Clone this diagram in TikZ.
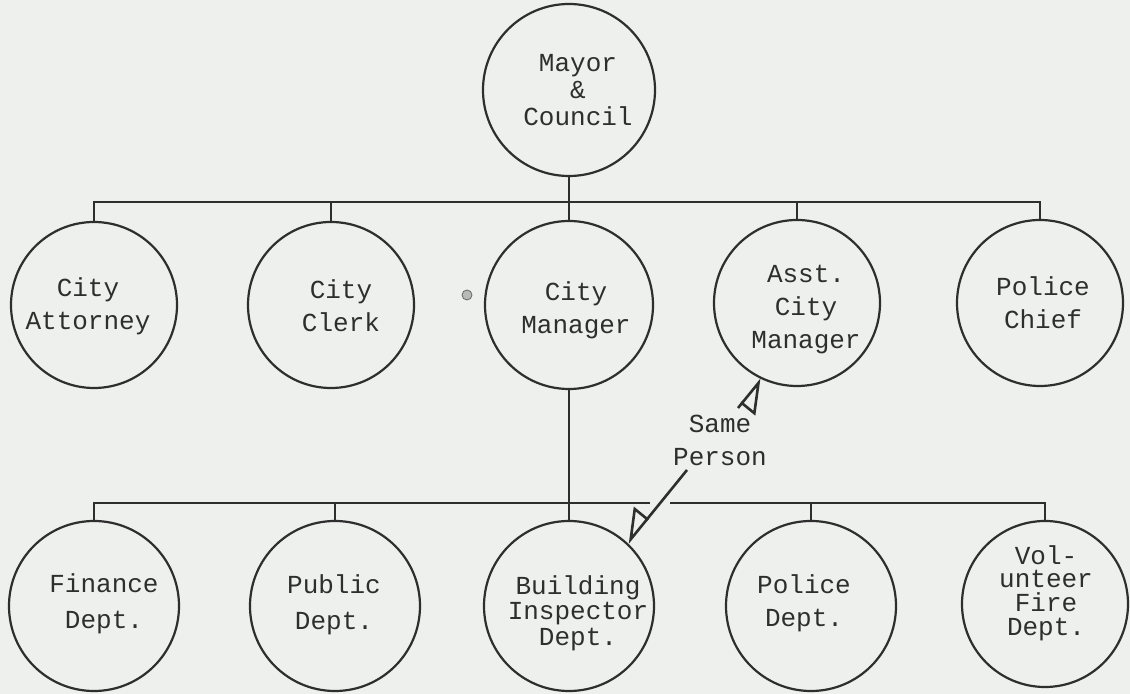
\documentclass[tikz,border=0pt]{standalone}
\usepackage{fontspec}
\newfontfamily\typed{Liberation Mono}
\usetikzlibrary{arrows.meta}
\definecolor{paper}{HTML}{EEF0EE}
\definecolor{ink}{HTML}{2E2E2E}
\tikzset{
  office/.style={circle, draw=ink, line width=1.1pt, inner sep=0pt, minimum size=83pt},
  lower/.style={office, minimum size=85pt},
  lbl/.style={text=ink, align=center, inner sep=0pt,
    font=\typed\fontsize{13}{16.5}\selectfont},
  wire/.style={draw=ink, line width=1.4pt},
  same/.style={draw=ink, line width=1.3pt,
    -{Triangle[open, right, length=15pt, width=18pt]}},
}
\begin{document}
\begin{tikzpicture}[x=0.5pt, y=-0.5pt]
\fill[paper] (0,0) rectangle (1130,694);
\useasboundingbox (0,0) rectangle (1130,694);

% top
\node[office, minimum size=86pt] (mayor) at (569,90) {};
\node[lbl, font=\typed\fontsize{13}{13.5}\selectfont] (mayor-t) at (578,90) {Mayor\\\&\\Council};

% second tier
\node[office] (att)   at (94,305)   {};
\node[office] (clerk) at (331,305)  {};
\node[office, minimum size=84pt] (mgr) at (569,305) {};
\node[office] (asst)  at (797,303)  {};
\node[office] (chief) at (1040,303) {};
\node[lbl] (att-t)   at (88,306)   {City\\Attorney};
\node[lbl] (clerk-t) at (341,306)  {City\\Clerk};
\node[lbl] (mgr-t)   at (576,310)  {City\\Manager};
\node[lbl] (asst-t)  at (806,310)  {Asst.\\City\\Manager};
\node[lbl] (chief-t) at (1043,303) {Police\\Chief};

% departments
\node[lower] (fin) at (94,606)   {};
\node[lower] (pub) at (335,606)  {};
\node[lower] (bld) at (569,606)  {};
\node[lower] (pol) at (811,606)  {};
\node[lower, minimum size=83pt] (vol) at (1045,604) {};
\node[lbl, font=\typed\fontsize{13}{18}\selectfont] (fin-t) at (104,604) {Finance\\Dept.};
\node[lbl, font=\typed\fontsize{13}{18}\selectfont] (pub-t) at (334,605) {Public\\Dept.};
\node[lbl, font=\typed\fontsize{13}{12.75}\selectfont] (bld-t) at (578,613) {Building\\Inspector\\Dept.};
\node[lbl] (pol-t) at (804,603) {Police\\Dept.};
\node[lbl, font=\typed\fontsize{13}{11.9}\selectfont] (vol-t) at (1046,593) {Vol-\\unteer\\Fire\\Dept.};

% small mark left of the manager
\node[circle, fill=gray!55, draw=gray!80!black, line width=0.4pt,
      minimum size=5pt, inner sep=0pt] (speck) at (467,295) {};

% bus levels
\coordinate (bus-top) at (569,202);
\coordinate (bus-low) at (569,503);
\coordinate (gap-l) at (650,503);
\coordinate (gap-r) at (670,503);

% upper bus and stems
\draw[wire] (att.north) -- (att.north |- bus-top) -- (chief.north |- bus-top) -- (chief.north);
\draw[wire] (clerk.north) -- (clerk.north |- bus-top);
\draw[wire] (asst.north) -- (asst.north |- bus-top);
\draw[wire] (mayor.south) -- (mgr.north);

% lower bus and stems
\draw[wire] (mgr.south) -- (bld.north);
\draw[wire] (fin.north) -- (fin.north |- bus-low) -- (gap-l);
\draw[wire] (gap-r) -- (vol.north |- bus-low) -- (vol.north);
\draw[wire] (pub.north) -- (pub.north |- bus-low);
\draw[wire] (pol.north) -- (pol.north |- bus-low);

% same person note
\node[lbl] (same) at (720,440) {Same\\Person};
\coordinate (same-up) at (738,408);
\coordinate (same-down) at (687,470);
\draw[same] (same-up) -- (asst.245);
\draw[same] (same-down) -- (bld.47);
\end{tikzpicture}
\end{document}
